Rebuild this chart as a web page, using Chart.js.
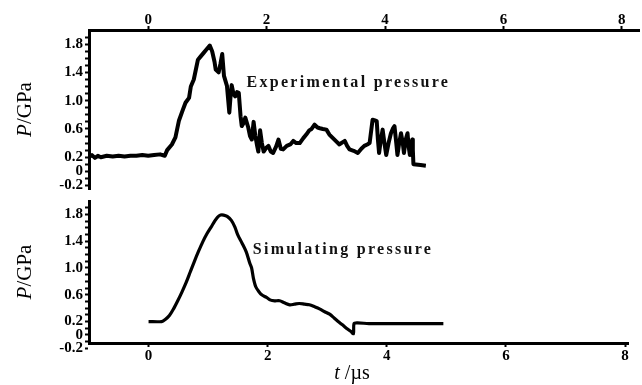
<!DOCTYPE html>
<html>
<head>
  <meta charset="UTF-8" />
  <title>Pressure history</title>
  <style>
    body { margin: 0; background: #fff; }
    #wrap { position: relative; width: 642px; height: 385px; }
    .panel { position: absolute; left: 0; }
    #top { top: 0; }
    #bottom { top: 190px; }
  </style>
  <script src="https://cdn.jsdelivr.net/npm/chart.js@4/dist/chart.umd.min.js"></script>
</head>
<body>
  <div id="wrap">
    <canvas id="top" class="panel" width="642" height="200"></canvas>
    <canvas id="bottom" class="panel" width="642" height="195"></canvas>
  </div>

  <script>
    // experimental record (t in µs, P in GPa)
    const expTime = [-1.00, -0.95, -0.90, -0.85, -0.80, -0.70, -0.60, -0.50, -0.40, -0.30, -0.20, -0.10,
      0.00, 0.10, 0.20, 0.28, 0.32, 0.40, 0.46, 0.52, 0.58, 0.63, 0.69, 0.72, 0.77, 0.80, 0.84, 0.88,
      0.94, 0.98, 1.04, 1.08, 1.12, 1.14, 1.19, 1.22, 1.25, 1.28, 1.33, 1.37, 1.39, 1.41, 1.44, 1.47,
      1.50, 1.53, 1.56, 1.58, 1.61, 1.64, 1.69, 1.72, 1.75, 1.78, 1.81, 1.84, 1.86, 1.89, 1.92, 1.95,
      1.99, 2.03, 2.07, 2.11, 2.16, 2.20, 2.24, 2.28, 2.34, 2.40, 2.45, 2.50, 2.56, 2.62, 2.67, 2.72,
      2.76, 2.81, 2.86, 2.90, 2.95, 3.01, 3.06, 3.12, 3.18, 3.23, 3.28, 3.32, 3.36, 3.40, 3.47, 3.54,
      3.60, 3.65, 3.70, 3.74, 3.77, 3.79, 3.83, 3.86, 3.88, 3.90, 3.93, 3.96, 3.99, 4.02, 4.06, 4.10,
      4.13, 4.16, 4.19, 4.21, 4.24, 4.27, 4.30, 4.32, 4.35, 4.38, 4.40, 4.42, 4.44, 4.46, 4.47, 4.48,
      4.60, 4.69];
    const expPressure = [0.20, 0.23, 0.19, 0.22, 0.20, 0.22, 0.21, 0.22, 0.21, 0.22, 0.22, 0.23,
      0.22, 0.23, 0.24, 0.22, 0.30, 0.38, 0.48, 0.72, 0.86, 0.97, 1.04, 1.20, 1.30, 1.42, 1.58, 1.62,
      1.68, 1.72, 1.78, 1.70, 1.55, 1.44, 1.40, 1.52, 1.66, 1.35, 1.21, 0.83, 1.05, 1.22, 1.10, 1.06,
      1.12, 1.11, 0.78, 0.64, 0.68, 0.76, 0.62, 0.50, 0.45, 0.70, 0.50, 0.36, 0.28, 0.58, 0.40, 0.28,
      0.33, 0.36, 0.28, 0.26, 0.35, 0.45, 0.32, 0.31, 0.36, 0.38, 0.43, 0.40, 0.40, 0.47, 0.52, 0.58,
      0.60, 0.66, 0.62, 0.61, 0.60, 0.59, 0.52, 0.47, 0.42, 0.38, 0.41, 0.43, 0.36, 0.31, 0.29, 0.26,
      0.32, 0.36, 0.38, 0.40, 0.60, 0.73, 0.72, 0.71, 0.45, 0.26, 0.45, 0.59, 0.40, 0.23, 0.40, 0.54,
      0.60, 0.64, 0.40, 0.23, 0.40, 0.54, 0.40, 0.26, 0.45, 0.54, 0.35, 0.23, 0.35, 0.45, 0.30, 0.10,
      0.09, 0.08];

    // simulated curve
    const simTime = [0.00, 0.22, 0.28, 0.35, 0.42, 0.49, 0.56, 0.63, 0.70, 0.77, 0.84, 0.91, 0.98,
      1.05, 1.11, 1.16, 1.21, 1.26, 1.32, 1.39, 1.45, 1.50, 1.57, 1.64, 1.70, 1.73, 1.76, 1.80, 1.85,
      1.90, 1.98, 2.05, 2.12, 2.20, 2.28, 2.37, 2.45, 2.53, 2.62, 2.70, 2.79, 2.87, 2.95, 3.04, 3.12,
      3.20, 3.27, 3.34, 3.40, 3.44, 3.45, 3.51, 3.70, 4.00, 4.40, 4.95];
    const simPressure = [0.20, 0.20, 0.23, 0.29, 0.39, 0.51, 0.64, 0.78, 0.94, 1.10, 1.25, 1.39, 1.51,
      1.61, 1.70, 1.76, 1.79, 1.79, 1.77, 1.71, 1.61, 1.49, 1.37, 1.24, 1.07, 1.00, 0.85, 0.72, 0.65,
      0.60, 0.56, 0.52, 0.51, 0.51, 0.48, 0.45, 0.46, 0.47, 0.46, 0.45, 0.42, 0.39, 0.35, 0.31, 0.25,
      0.19, 0.14, 0.09, 0.05, 0.02, 0.17, 0.18, 0.17, 0.17, 0.17, 0.17];

    const xTicks = [0, 2, 4, 6, 8];
    const yLabels = [-0.2, 0, 0.2, 0.6, 1.0, 1.4, 1.8];
    const yMinor = [-0.2, -0.1, 0, 0.1, 0.2, 0.3, 0.4, 0.5, 0.6, 0.7, 0.8, 0.9, 1.0, 1.1, 1.2, 1.3, 1.4, 1.5, 1.6, 1.7, 1.8, 1.9];

    const expLabel = { text: 'Experimental pressure', t: 1.66, p: 1.25 };
    const simLabel = { text: 'Simulating pressure', t: 1.75, p: 1.27 };

    const serif = '"Liberation Serif", "DejaVu Serif", serif';
    const tickFont = { family: serif, size: 15, weight: 'bold' };

    function pts(xs, ys) {
      return xs.map((x, i) => ({ x, y: ys[i] }));
    }

    function yLabel(v) {
      const hit = yLabels.find(l => Math.abs(l - v) < 1e-6);
      if (hit === undefined) return '';
      if (hit === 0) return '0';
      return hit.toFixed(1);
    }

    // draws "italic + upright" text centred at (x, y), optionally rotated
    function mixedText(ctx, italic, rest, x, y, size, rot) {
      ctx.save();
      ctx.translate(x, y);
      if (rot) ctx.rotate(rot);
      ctx.fillStyle = '#000';
      ctx.textBaseline = 'middle';
      ctx.font = 'italic ' + size + 'px ' + serif;
      const w1 = ctx.measureText(italic).width;
      ctx.font = size + 'px ' + serif;
      const w2 = ctx.measureText(rest).width;
      let x0 = -(w1 + w2) / 2;
      ctx.font = 'italic ' + size + 'px ' + serif;
      ctx.fillText(italic, x0, 0);
      ctx.font = size + 'px ' + serif;
      ctx.fillText(rest, x0 + w1, 0);
      ctx.restore();
    }

    const textPlugin = {
      id: 'curveText',
      afterDraw(chart) {
        const o = chart.options.plugins.curveText;
        const ctx = chart.ctx;
        const xs = chart.scales.x, ys = chart.scales.y;
        const area = chart.chartArea;
        ctx.save();
        ctx.font = 'bold 16px ' + serif;
        ctx.letterSpacing = o.spacing;
        ctx.fillStyle = '#111';
        ctx.textBaseline = 'middle';
        ctx.fillText(o.label.text, xs.getPixelForValue(o.label.t), ys.getPixelForValue(o.label.p));
        ctx.restore();
        // axis titles
        mixedText(ctx, 'P', '/GPa', 25, (area.top + area.bottom) / 2, 21, -Math.PI / 2);
        if (o.xTitle) mixedText(ctx, 't', ' /µs', 352, chart.height - 11, 20, 0);
      }
    };

    function makeChart(id, opt) {
      return new Chart(document.getElementById(id), {
        type: 'line',
        data: {
          datasets: [{
            data: opt.data,
            borderColor: '#000',
            borderWidth: opt.lineWidth,
            borderJoinStyle: 'round',
            pointRadius: 0,
            tension: opt.tension,
            fill: false
          }]
        },
        options: {
          responsive: false,
          animation: false,
          devicePixelRatio: 1,
          layout: { padding: opt.padding },
          plugins: {
            legend: { display: false },
            tooltip: { enabled: false },
            curveText: { label: opt.label, spacing: opt.spacing, xTitle: opt.xTitle }
          },
          scales: {
            x: {
              type: 'linear',
              position: opt.xPos,
              min: -1,
              max: opt.xMax,
              afterBuildTicks: s => { s.ticks = xTicks.map(v => ({ value: v })); },
              afterFit: s => { s.height = opt.xHeight; },
              grid: { drawOnChartArea: false, tickLength: 4, tickColor: '#000', tickWidth: 2 },
              border: { display: true, color: '#000', width: 3 },
              ticks: { color: '#000', font: tickFont, padding: opt.xPad, maxRotation: 0, autoSkip: false }
            },
            y: {
              min: opt.yMin,
              max: 2.0,
              afterBuildTicks: s => { s.ticks = yMinor.map(v => ({ value: v })); },
              afterFit: s => { s.width = 89; },
              grid: { drawOnChartArea: false, tickLength: 4, tickColor: '#000', tickWidth: 2 },
              border: { display: true, color: '#000', width: 3 },
              ticks: { color: '#000', font: tickFont, padding: 2, autoSkip: false, callback: v => yLabel(v) }
            }
          }
        },
        plugins: [textPlugin]
      });
    }

    makeChart('top', {
      data: pts(expTime, expPressure),
      lineWidth: 4,
      tension: 0,
      padding: { left: 0, right: 3, top: 0, bottom: 11 },
      xPos: 'top',
      xMax: 8.29,
      xHeight: 30,
      xPad: -3,
      yMin: -0.25,
      label: expLabel,
      spacing: '2.3px',
      xTitle: false
    });

    makeChart('bottom', {
      data: pts(simTime, simPressure),
      lineWidth: 3.2,
      tension: 0.3,
      padding: { left: 0, right: 14, top: 8, bottom: 0 },
      xPos: 'bottom',
      xMax: 8.05,
      xHeight: 42,
      xPad: 0,
      yMin: -0.12,
      label: simLabel,
      spacing: '2.3px',
      xTitle: true
    });
  </script>
</body>
</html>
